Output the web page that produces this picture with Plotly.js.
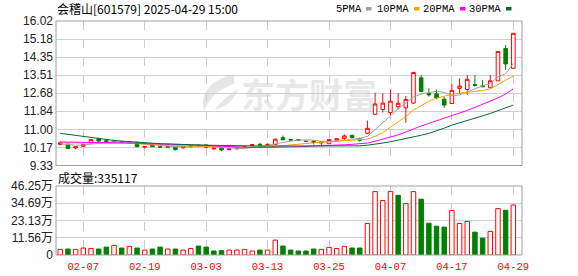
<!DOCTYPE html>
<html><head><meta charset="utf-8">
<script src="https://cdn.plot.ly/plotly-3.0.1.min.js"></script>
<style>html,body{margin:0;padding:0;background:#fff;overflow:hidden}</style>
</head><body><div id="chart" style="width:578px;height:276px"></div>
<script>
// ---- data ----
const dates = ['2025-01-27','2025-02-05','2025-02-06','2025-02-07','2025-02-10','2025-02-11','2025-02-12','2025-02-13','2025-02-14','2025-02-17',
'2025-02-18','2025-02-19','2025-02-20','2025-02-21','2025-02-24','2025-02-25','2025-02-26','2025-02-27','2025-02-28','2025-03-03',
'2025-03-04','2025-03-05','2025-03-06','2025-03-07','2025-03-10','2025-03-11','2025-03-12','2025-03-13','2025-03-14','2025-03-17',
'2025-03-18','2025-03-19','2025-03-20','2025-03-21','2025-03-24','2025-03-25','2025-03-26','2025-03-27','2025-03-28','2025-03-31',
'2025-04-01','2025-04-02','2025-04-03','2025-04-07','2025-04-08','2025-04-09','2025-04-10','2025-04-11','2025-04-14','2025-04-15',
'2025-04-16','2025-04-17','2025-04-18','2025-04-21','2025-04-22','2025-04-23','2025-04-24','2025-04-25','2025-04-28','2025-04-29'];
const openP = [10.30,10.32,10.14,10.22,10.38,10.58,10.48,10.42,10.43,10.38,
10.40,10.18,10.26,10.20,10.17,10.18,10.15,10.19,10.26,10.28,
10.10,10.15,10.06,10.10,10.17,10.24,10.31,10.28,10.30,10.62,
10.53,10.52,10.46,10.44,10.38,10.34,10.50,10.58,10.73,10.58,
10.82,11.70,11.92,11.78,12.05,12.00,12.22,13.39,12.66,12.65,
12.40,12.20,12.90,12.85,13.08,13.02,12.93,13.25,14.75,13.83];
const highP = [10.45,10.34,10.22,10.34,10.56,10.62,10.50,10.50,10.45,10.45,
10.42,10.23,10.28,10.22,10.25,10.20,10.22,10.28,10.33,10.30,
10.15,10.17,10.12,10.16,10.22,10.32,10.38,10.34,10.56,10.72,
10.56,10.54,10.48,10.50,10.44,10.55,10.58,10.77,10.75,10.63,
11.41,12.70,12.67,12.85,12.68,12.55,13.66,13.52,12.90,12.84,
12.51,13.10,13.36,13.52,13.52,13.28,13.52,14.61,14.91,15.45];
const lowP = [10.27,10.08,10.08,10.18,10.35,10.42,10.40,10.38,10.37,10.36,
10.18,10.12,10.18,10.16,10.15,10.03,10.12,10.17,10.20,10.15,
10.06,10.00,10.04,10.08,10.15,10.22,10.24,10.26,10.28,10.50,
10.45,10.45,10.42,10.30,10.22,10.32,10.48,10.50,10.60,10.43,
10.79,11.70,11.78,11.64,11.92,11.31,12.18,12.72,12.52,12.40,
12.00,12.20,12.64,12.59,12.98,12.96,12.93,13.25,13.75,13.83];
const closeP = [10.38,10.12,10.20,10.30,10.53,10.46,10.45,10.47,10.40,10.42,
10.20,10.21,10.20,10.18,10.22,10.06,10.19,10.24,10.22,10.18,
10.13,10.05,10.10,10.14,10.20,10.30,10.28,10.31,10.55,10.52,
10.51,10.50,10.44,10.40,10.42,10.53,10.57,10.70,10.62,10.50,
11.05,12.18,12.22,12.31,12.21,12.39,13.64,12.76,12.60,12.46,
12.13,12.81,13.01,13.32,13.04,12.98,13.25,14.61,14.03,15.45];
const volume = [37800,40000,37800,46700,44000,40000,53000,64500,46700,58000,
46700,33000,40000,53000,40000,40000,33000,44000,60000,53000,
27000,29000,33000,33000,38000,27000,33000,33000,100000,60000,
33000,27000,27000,40000,38000,51000,44000,58000,47000,47000,
211000,425000,365000,425000,400000,345000,425000,374000,213000,193000,
187000,298000,211000,225000,153000,113000,158000,311000,300000,335117];
const volUp = [1,0,1,1,1,0,0,1,0,1, 0,1,0,0,1,0,1,1,0,0, 0,0,1,1,1,1,0,1,1,0,
0,0,0,0,1,1,1,1,0,0, 1,1,1,1,0,1,1,0,0,0, 0,1,1,1,0,0,1,1,0,1];
const ma5 = [10.33,10.30,10.27,10.28,10.31,10.36,10.40,10.43,10.42,10.40,
10.36,10.32,10.28,10.25,10.23,10.20,10.19,10.20,10.22,10.22,
10.20,10.16,10.13,10.12,10.12,10.15,10.20,10.26,10.33,10.40,
10.46,10.50,10.52,10.50,10.45,10.44,10.45,10.49,10.55,10.58,
10.68,10.98,11.28,11.62,11.95,12.22,12.50,12.64,12.72,12.77,
12.72,12.56,12.60,12.74,12.86,13.02,13.12,13.44,13.58,14.06];
const ma10 = [10.38,10.38,10.37,10.36,10.36,10.37,10.38,10.38,10.37,10.36,
10.34,10.33,10.31,10.30,10.28,10.26,10.24,10.23,10.22,10.20,
10.19,10.18,10.17,10.16,10.15,10.15,10.16,10.18,10.22,10.25,
10.28,10.31,10.35,10.38,10.40,10.42,10.45,10.47,10.48,10.50,
10.55,10.68,10.85,11.10,11.35,11.60,11.90,12.12,12.30,12.45,
12.55,12.62,12.68,12.72,12.76,12.80,12.88,13.10,13.28,13.47];
const ma20 = [10.42,10.41,10.40,10.40,10.39,10.39,10.38,10.38,10.38,10.37,
10.37,10.36,10.36,10.35,10.34,10.33,10.32,10.30,10.28,10.26,
10.24,10.22,10.20,10.18,10.17,10.16,10.16,10.16,10.17,10.18,
10.19,10.20,10.21,10.22,10.23,10.25,10.27,10.29,10.31,10.33,
10.37,10.45,10.54,10.64,10.75,10.88,11.03,11.16,11.28,11.40,
11.50,11.62,11.74,11.88,12.02,12.16,12.30,12.46,12.64,12.88];
const ma30 = [10.82,10.77,10.72,10.67,10.62,10.57,10.53,10.49,10.46,10.43,
10.40,10.38,10.36,10.34,10.33,10.31,10.30,10.29,10.28,10.27,
10.26,10.25,10.25,10.24,10.24,10.24,10.23,10.23,10.23,10.23,
10.23,10.23,10.23,10.23,10.23,10.23,10.23,10.23,10.24,10.24,
10.27,10.31,10.37,10.43,10.50,10.57,10.65,10.73,10.82,10.93,
11.06,11.20,11.30,11.42,11.52,11.63,11.74,11.86,11.99,12.13];
const priceTicks = [9.33,10.17,11.00,11.84,12.68,13.51,14.35,15.18,16.02];
const priceTickText = ['9.33','10.17','11.00','11.84','12.68','13.51','14.35','15.18','16.02'];
const volTicks = [0,115625,231250,346875,462500];
const volTickText = ['0','11.56万','23.13万','34.69万','46.25万'];
const xLabelDates = ['2025-02-07','2025-02-19','2025-03-03','2025-03-13','2025-03-25','2025-04-07','2025-04-17','2025-04-29'];
const xLabelText = ['02-07','02-19','03-03','03-13','03-25','04-07','04-17','04-29'];
const maNames = ['5PMA','10PMA','20PMA','30PMA'];
const maColors = ['#a0a0a0','#f5a300','#ff00ff','#006b30'];
const titleText = '会稽山[601579] 2025-04-29 15:00';
const volTitle = '成交量:' + volume[volume.length-1];
const watermarkText = '东方财富';

// ---- geometry helpers (pixels -> paper) ----
const L=56,R=522,T=21,B=255;
const fx = px => (px-L)/(R-L);
const fy = py => (B-py)/(B-T);

const idx = dates.map((d,i)=>i);
const tickIdx = xLabelDates.map(d=>dates.indexOf(d));

const traces = [];
traces.push({type:'candlestick', x:idx, open:openP, high:highP, low:lowP, close:closeP,
  xaxis:'x', yaxis:'y', whiskerwidth:0, hoverinfo:'skip', showlegend:false,
  increasing:{line:{color:'#ff0000',width:1}, fillcolor:'#ffffff'},
  decreasing:{line:{color:'#008000',width:1}, fillcolor:'#008000'}});
[ma5,ma10,ma20,ma30].forEach((m,k)=>{
  traces.push({type:'scatter', mode:'lines', x:idx, y:m, xaxis:'x', yaxis:'y',
    line:{color:maColors[k], width:1}, hoverinfo:'skip', showlegend:false});
});
traces.push({type:'bar', x:idx, y:volume, xaxis:'x', yaxis:'y2', width:0.58,
  marker:{color:volUp.map(u=>u?'#ffffff':'#008000'), line:{color:volUp.map(u=>u?'#ff0000':'#008000'), width:1}},
  hoverinfo:'skip', showlegend:false});

const shapes = [
  {type:'rect', xref:'paper', yref:'paper', x0:0, x1:1, y0:fy(165.5), y1:1, line:{color:'#a0a0a0',width:1}, layer:'above'},
  {type:'rect', xref:'paper', yref:'paper', x0:0, x1:1, y0:0, y1:fy(186), line:{color:'#a0a0a0',width:1}, layer:'above'},
  {type:'path', xref:'paper', yref:'paper', layer:'below', fillcolor:'#e6e6e6', line:{width:0},
   path:`M ${fx(234)} ${fy(74)} Q ${fx(197)} ${fy(84)} ${fx(204)} ${fy(111)} Q ${fx(211)} ${fy(92)} ${fx(234)} ${fy(84)} Z`},
  {type:'path', xref:'paper', yref:'paper', layer:'below', fillcolor:'#e6e6e6', line:{width:0},
   path:`M ${fx(214)} ${fy(110)} Q ${fx(226)} ${fy(96)} ${fx(238)} ${fy(89)} Q ${fx(233)} ${fy(105)} ${fx(214)} ${fy(110)} Z`}
];
const annotations = [
  {xref:'paper', yref:'paper', x:fx(309), y:fy(93), xanchor:'center', yanchor:'middle', showarrow:false,
   text:watermarkText, font:{family:'Noto Sans CJK SC', size:34, color:'rgba(200,200,200,0.42)', weight:'bold'}},
  {xref:'paper', yref:'paper', x:fx(55), y:fy(9), xanchor:'left', yanchor:'middle', showarrow:false,
   text:titleText, font:{family:'Noto Sans CJK SC', size:12, color:'#000'}},
  {xref:'paper', yref:'paper', x:fx(56), y:fy(177), xanchor:'left', yanchor:'middle', showarrow:false,
   text:volTitle, font:{family:'Noto Sans CJK SC', size:12, color:'#000'}}
];
const legRight = [364, 411, 457, 503];
const legSq = [365, 413, 459, 505];
maNames.forEach((n,k)=>{
  annotations.push({xref:'paper', yref:'paper', x:fx(legRight[k]), y:fy(9), xanchor:'right', yanchor:'middle', showarrow:false,
    text:n, font:{family:'Liberation Mono', size:10.5, color:'#000'}});
  shapes.push({type:'rect', xref:'paper', yref:'paper', x0:fx(legSq[k]+1), x1:fx(legSq[k]+6.5), y0:fy(10.5), y1:fy(7),
    fillcolor:maColors[k], line:{width:0}});
});

const layout = {
  width:578, height:276, margin:{l:56, r:56, t:21, b:21},
  paper_bgcolor:'#fff', plot_bgcolor:'#fff', showlegend:false, boxgap:0.34,
  xaxis:{anchor:'y2', range:[-0.555, 60.13], rangeslider:{visible:false}, tickvals:tickIdx, ticktext:xLabelText,
    showgrid:true, gridcolor:'#cccccc', griddash:'dash', gridwidth:1, zeroline:false, showline:false, ticks:'',
    tickfont:{family:'Liberation Mono', size:10.5, color:'#ff0000'}, ticklabelstandoff:3, fixedrange:true},
  yaxis:{domain:[fy(165.5),1], anchor:'x', range:[9.33,16.02], tickvals:priceTicks, ticktext:priceTickText,
    gridcolor:'#d0d0d0', gridwidth:1, zeroline:false, showline:false, ticks:'',
    tickfont:{family:'Liberation Sans', size:12, color:'#222'}, ticklabelstandoff:2},
  yaxis2:{domain:[0,fy(186)], anchor:'x', range:[0,462500], tickvals:volTicks, ticktext:volTickText,
    gridcolor:'#d0d0d0', gridwidth:1, zeroline:false, showline:false, ticks:'',
    tickfont:{family:'Liberation Sans, Noto Sans CJK SC', size:12, color:'#222'}, ticklabelstandoff:2},
  shapes:shapes, annotations:annotations
};
Plotly.newPlot('chart', traces, layout, {staticPlot:true, displayModeBar:false});
</script></body></html>
